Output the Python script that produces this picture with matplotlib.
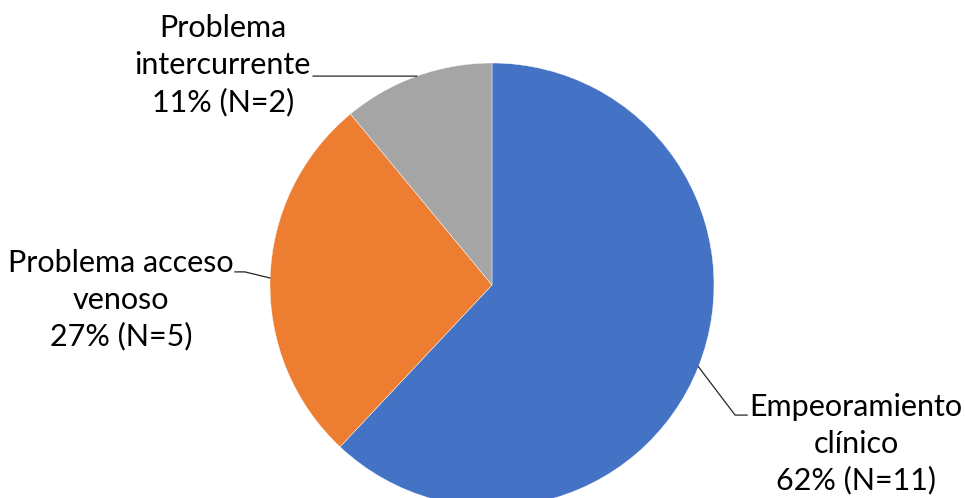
import numpy as np
import matplotlib.pyplot as plt

# Data
labels = ["Empeoramiento\nclínico", "Problema acceso\nvenoso", "Problema\nintercurrente"]
counts = [11, 5, 2]
percents = [62, 27, 11]
colors = ["#4472C4", "#ED7D31", "#A5A5A5"]

plt.rcParams['font.family'] = ['Lato', 'DejaVu Sans']

fig = plt.figure(figsize=(9.65, 4.98), dpi=100)
# pie axes placed so the pie runs off the bottom edge like the original
ax = fig.add_axes([270/965, -9/498, 444/965, 444/498])

wedges, _ = ax.pie(percents, colors=colors, startangle=90, counterclock=False,
                   radius=1, wedgeprops=dict(edgecolor='white', linewidth=0.3))
ax.set_xlim(-1, 1)
ax.set_ylim(-1, 1)
ax.set_aspect('equal')
ax.axis('off')

# label placement: (text x, text y, leader elbow, leader end)
layout = [
    (1.64, -0.717, (1.095, -0.586), (1.149, -0.586)),
    (-1.671, -0.068, (-1.113, 0.059), (-1.158, 0.059)),
    (-1.212, 0.99, (-0.80, 0.941), (-0.806, 0.941)),
]

for w, lab, n, p, (tx, ty, elbow, end) in zip(wedges, labels, counts, percents, layout):
    mid = np.deg2rad((w.theta1 + w.theta2) / 2)
    x0, y0 = np.cos(mid), np.sin(mid)
    ax.plot([x0, elbow[0], end[0]], [y0, elbow[1], end[1]], color='#262626',
            lw=0.9, clip_on=False)
    ax.text(tx, ty, f"{lab}\n{p}% (N={n})", ha='center', va='center',
            fontsize=22, linespacing=1.36, color='#000000', clip_on=False)

fig.savefig("out.png", dpi=100)
